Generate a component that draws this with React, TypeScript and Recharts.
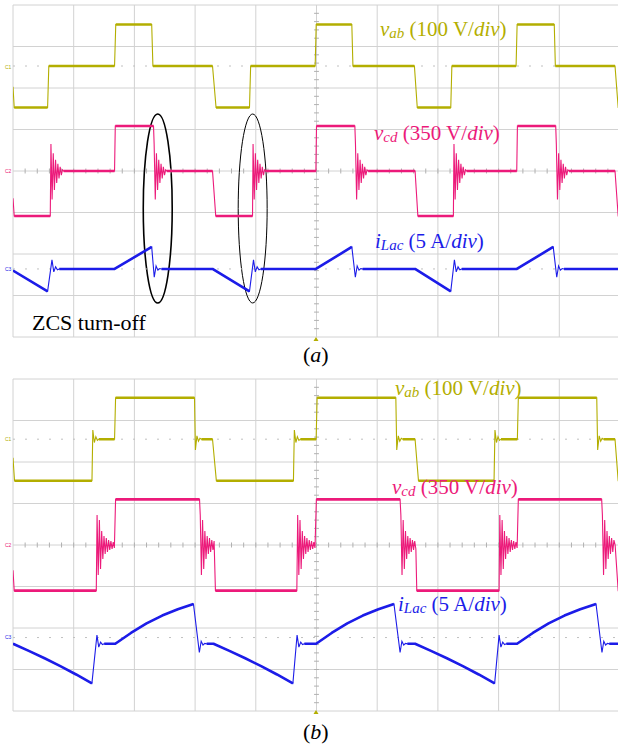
import {
  CartesianGrid,
  Line,
  LineChart,
  ReferenceArea,
  ReferenceLine,
  XAxis,
  YAxis,
} from 'recharts'

type Knot = [number, number]
type Ring = { at: number[]; shape: number[]; step: number }
type Pt = { t: number; y: number | null }

const VAB = '#b3ae00'
const VCD = '#ec1a7a'
const ILAC = '#1c1ce8'
const FONT = '"Liberation Serif", "Times New Roman", serif'

// graticule: 10 time divisions, 8 vertical divisions
const xTicks = [0, 1, 2, 3, 4, 5, 6, 7, 8, 9, 10]
const yTicks = [-4, -3, -2, -1, 0, 1, 2, 3, 4]
const minorX = Array.from({ length: 49 }, (_, i) => (i + 1) * 0.2)
const minorY = Array.from({ length: 39 }, (_, i) => -3.8 + i * 0.2)

// ---- (a) : time in div, vab/vcd in V, iLac in A
const vabA: Knot[] = [
  [0, -50], [0.02, -100], [0.57, -100], [0.59, 0], [1.673, 0], [1.693, 100],
  [2.285, 100], [2.305, 0], [3.287, 0], [3.345, -100], [3.896, -100], [3.915, 0],
  [4.978, 0], [4.995, 100], [5.582, 100], [5.6, 0], [6.613, 0], [6.66, -100],
  [7.212, -100], [7.23, 0], [8.288, 0], [8.305, 100], [8.917, 100], [8.935, 0],
  [9.918, 0], [9.97, -100], [10, -100],
]
const vcdA: Knot[] = [
  [0, -230], [0.02, -380], [0.614, -380], [1.673, 0], [1.685, 380], [2.315, 380],
  [3.287, 0], [3.34, -380], [3.946, -380], [4.99, 0], [5.0, 380], [5.632, 380],
  [6.624, 0], [6.67, -380], [7.255, -380], [8.299, 0], [8.31, 380], [8.941, 380],
  [9.918, 0], [9.97, -380], [10, -380],
]
const vcdRingTimesA = [0.625, 2.325, 3.955, 5.642, 7.265, 8.951]
const vcdRingA = [228, -240, 150, -160, 95, -100, 60, -62, 35, -35, 10, 0]
const iLacA: Knot[] = [
  [0, -0.2], [0.57, -2.7], [1.673, 0], [2.285, 2.65], [3.287, 0], [3.896, -2.7],
  [4.99, 0], [5.582, 2.65], [6.624, 0], [7.212, -2.7], [8.3, 0], [8.9, 2.65], [10, 0],
]
const iUpTimesA = [0.642, 3.962, 7.272]
const iDownTimesA = [2.327, 5.64, 8.958]
const iUpRingA = [1.1, -0.35, 0.25, -0.1, 0]
const iDownRingA = [-1.0, 0.35, -0.15, 0.05, 0]

// ---- (b)
const vabB: Knot[] = [
  [0, -45], [0.025, -100], [1.301, -100], [1.673, 0], [1.69, 100], [2.99, 100],
  [3.287, 0], [3.35, -100], [4.62, -100], [4.994, 0], [5.01, 100], [6.307, 100],
  [6.624, 0], [6.68, -100], [7.925, -100], [8.309, 0], [8.325, 100], [9.617, 100],
  [9.918, 0], [9.97, -100], [10, -100],
]
const vabUpTimesB = [1.315, 4.635, 7.94]
const vabDownTimesB = [3.005, 6.322, 9.632]
const vabUpRingB = [22, -8, 6, -3, 0]
const vabDownRingB = [-26, 8, -5, 2, 0]
const vcdB: Knot[] = [
  [0, -214], [0.02, -385], [1.372, -385], [1.69, 385], [3.073, 385], [3.335, -385],
  [4.676, -385], [4.998, 385], [6.377, 385], [6.652, -385], [8.008, -385],
  [8.325, 385], [9.698, 385], [9.92, 0], [9.97, -385], [10, -385],
]
const vcdRingTimesB = [1.385, 3.085, 4.69, 6.39, 8.02, 9.71]
const vcdRingB = [253, -253, 211, -202, 118, -118, 76, -76, 59, -59, 42, -42, 34, -34, 25, -25]
const iLacB: Knot[] = [
  [0, 0], [0.26, -0.85], [0.52, -1.75], [0.78, -2.7], [1.04, -3.7], [1.3, -4.77],
  [1.685, 0], [1.943, 1.3], [2.2, 2.45], [2.458, 3.4], [2.715, 4.15], [2.973, 4.8],
  [3.303, 0], [3.565, -0.85], [3.826, -1.75], [4.088, -2.7], [4.349, -3.7], [4.611, -4.77],
  [4.994, 0], [5.25, 1.3], [5.507, 2.45], [5.763, 3.4], [6.02, 4.15], [6.276, 4.8],
  [6.624, 0], [6.886, -0.85], [7.148, -1.75], [7.411, -2.7], [7.673, -3.7], [7.935, -4.77],
  [8.304, 0], [8.564, 1.3], [8.824, 2.45], [9.085, 3.4], [9.345, 4.15], [9.605, 4.8],
  [10, 0],
]
const iUpTimesB = [1.383, 4.68, 8.008]
const iDownTimesB = [3.07, 6.377, 9.703]
const iUpRingB = [1.05, -0.4, 0.2, -0.1, 0]
const iDownRingB = [-1.05, 0.3, -0.15, 0.05, 0]

function buildTrace(knots: Knot[], rings: Ring[], offset: number, scale: number) {
  const all: { t: number; v: number }[] = knots.map(([t, v]) => ({ t, v }))
  for (const r of rings) {
    for (const t0 of r.at) {
      const next = knots.find((k) => k[0] > t0)
      const limit = next ? next[0] - 0.004 : 10
      r.shape.forEach((v, i) => {
        const t = t0 + i * r.step
        if (t < limit) all.push({ t, v })
      })
    }
  }
  all.sort((a, b) => a.t - b.t)
  const line: Pt[] = all.map((p) => ({ t: p.t, y: offset + p.v / scale }))
  // slow parts of the trace look thicker on the scope
  const thick: Pt[] = []
  for (let i = 1; i < line.length; i++) {
    const p = line[i - 1]
    const q = line[i]
    const dt = q.t - p.t
    const slow = dt > 0.04 && Math.abs(((q.y as number) - (p.y as number)) * 41.5) / (dt * 60.7) < 2
    if (!slow) continue
    const last = thick[thick.length - 1]
    if (!last || last.y === null || last.t !== p.t || last.y !== p.y) {
      if (last && last.y !== null) thick.push({ t: p.t, y: null })
      thick.push(p)
    }
    thick.push(q)
  }
  return { line, thick }
}

const ellipseShape = (w: number) => (props: any) => {
  const { x, y, width, height } = props
  return (
    <ellipse
      cx={x + width / 2}
      cy={y + height / 2}
      rx={width / 2}
      ry={height / 2}
      fill="none"
      stroke="#000"
      strokeWidth={w}
    />
  )
}

interface Trace {
  color: string
  line: Pt[]
  thick: Pt[]
}

function Panel({
  top,
  traces,
  refLevels,
  ellipses,
}: {
  top: number
  traces: Trace[]
  refLevels: number[]
  ellipses?: { x1: number; x2: number; y1: number; y2: number; w: number }[]
}) {
  return (
    <div style={{ position: 'absolute', left: 0, top }}>
      <LineChart width={630} height={340} margin={{ top: 5, right: 10, bottom: 3, left: 13 }}>
        <CartesianGrid stroke="#d2d2d2" strokeWidth={1} />
        <XAxis type="number" dataKey="t" domain={[0, 10]} ticks={xTicks} hide allowDataOverflow />
        <YAxis type="number" domain={[-4, 4]} ticks={yTicks} hide allowDataOverflow />
        {refLevels.map((lv) => (
          <ReferenceLine key={'lv' + lv} y={lv} stroke="#c0c0c0" strokeDasharray="2 10" />
        ))}
        {minorX.map((t) => (
          <ReferenceLine
            key={'mx' + t}
            segment={[{ x: t, y: -0.06 }, { x: t, y: 0.06 }]}
            stroke="#b0b0b0"
          />
        ))}
        {minorY.map((v) => (
          <ReferenceLine
            key={'my' + v}
            segment={[{ x: 4.96, y: v }, { x: 5.04, y: v }]}
            stroke="#b0b0b0"
          />
        ))}
        {traces.map((tr, i) => (
          <Line
            key={'l' + i}
            data={tr.line}
            dataKey="y"
            type="linear"
            stroke={tr.color}
            strokeWidth={1.1}
            dot={false}
            activeDot={false}
            isAnimationActive={false}
          />
        ))}
        {traces.map((tr, i) => (
          <Line
            key={'t' + i}
            data={tr.thick}
            dataKey="y"
            type="linear"
            stroke={tr.color}
            strokeWidth={2.6}
            strokeLinejoin="round"
            dot={false}
            activeDot={false}
            connectNulls={false}
            isAnimationActive={false}
          />
        ))}
        {(ellipses || []).map((e, i) => (
          <ReferenceArea
            key={'e' + i}
            x1={e.x1}
            x2={e.x2}
            y1={e.y1}
            y2={e.y2}
            shape={ellipseShape(e.w)}
          />
        ))}
      </LineChart>
    </div>
  )
}

function Label({ x, y, color, v, sub, rest }: { x: number; y: number; color: string; v: string; sub: string; rest: string }) {
  return (
    <text x={x} y={y} fill={color} fontFamily={FONT} fontSize={21}>
      <tspan fontStyle="italic">{v}</tspan>
      <tspan fontStyle="italic" fontSize={15} dy={2}>{sub}</tspan>
      <tspan dy={-2}>{' (' + rest + '/'}</tspan>
      <tspan fontStyle="italic">div</tspan>
      <tspan>)</tspan>
    </text>
  )
}

export default function App() {
  const a: Trace[] = [
    { color: VAB, ...buildTrace(vabA, [], 2.53, 100) },
    { color: VCD, ...buildTrace(vcdA, [{ at: vcdRingTimesA, shape: vcdRingA, step: 0.019 }], 0, 350) },
    {
      color: ILAC,
      ...buildTrace(
        iLacA,
        [
          { at: iUpTimesA, shape: iUpRingA, step: 0.03 },
          { at: iDownTimesA, shape: iDownRingA, step: 0.03 },
        ],
        -2.36,
        5
      ),
    },
  ]
  const b: Trace[] = [
    {
      color: VAB,
      ...buildTrace(
        vabB,
        [
          { at: vabUpTimesB, shape: vabUpRingB, step: 0.025 },
          { at: vabDownTimesB, shape: vabDownRingB, step: 0.025 },
        ],
        2.55,
        100
      ),
    },
    { color: VCD, ...buildTrace(vcdB, [{ at: vcdRingTimesB, shape: vcdRingB, step: 0.019 }], 0, 350) },
    {
      color: ILAC,
      ...buildTrace(
        iLacB,
        [
          { at: iUpTimesB, shape: iUpRingB, step: 0.03 },
          { at: iDownTimesB, shape: iDownRingB, step: 0.03 },
        ],
        -2.38,
        5
      ),
    },
  ]

  return (
    <div
      style={{
        position: 'fixed',
        left: 0,
        top: 0,
        width: 618,
        height: 746,
        overflow: 'hidden',
        background: '#fff',
      }}
    >
      <Panel
        top={0}
        traces={a}
        refLevels={[2.53, -2.36]}
        ellipses={[
          { x1: 2.146, x2: 2.623, y1: -3.18, y2: 1.373, w: 1.6 },
          { x1: 3.71, x2: 4.187, y1: -3.18, y2: 1.373, w: 1 },
        ]}
      />
      <Panel top={374} traces={b} refLevels={[2.55, -2.23]} />
      <svg
        width={618}
        height={746}
        style={{ position: 'absolute', left: 0, top: 0, pointerEvents: 'none' }}
      >
        <Label x={380} y={36} color={VAB} v="v" sub="ab" rest="100 V" />
        <Label x={374} y={140} color={VCD} v="v" sub="cd" rest="350 V" />
        <Label x={375} y={248} color={ILAC} v="i" sub="Lac" rest="5 A" />
        <text x={32} y={330} fontFamily={FONT} fontSize={22} fill="#000">
          ZCS turn-off
        </text>
        <text x={303} y={362} fontFamily={FONT} fontSize={22} fill="#000">
          (<tspan fontStyle="italic">a</tspan>)
        </text>

        <Label x={395} y={395} color={VAB} v="v" sub="ab" rest="100 V" />
        <Label x={392} y={494} color={VCD} v="v" sub="cd" rest="350 V" />
        <Label x={398} y={611} color={ILAC} v="i" sub="Lac" rest="5 A" />
        <text x={303} y={739} fontFamily={FONT} fontSize={22} fill="#000">
          (<tspan fontStyle="italic">b</tspan>)
        </text>

        <text x={5} y={69} fontFamily="Arial" fontSize={5} fill={VAB}>C1</text>
        <text x={5} y={173} fontFamily="Arial" fontSize={5} fill={VCD}>C2</text>
        <text x={5} y={271} fontFamily="Arial" fontSize={5} fill={ILAC}>C3</text>
        <text x={5} y={441} fontFamily="Arial" fontSize={5} fill={VAB}>C1</text>
        <text x={5} y={547} fontFamily="Arial" fontSize={5} fill={VCD}>C2</text>
        <text x={5} y={639} fontFamily="Arial" fontSize={5} fill={ILAC}>C3</text>
        <polygon points="313.5,341 318.5,341 316,337" fill={VAB} />
        <polygon points="313.5,714 318.5,714 316,710" fill={VAB} />
      </svg>
    </div>
  )
}
